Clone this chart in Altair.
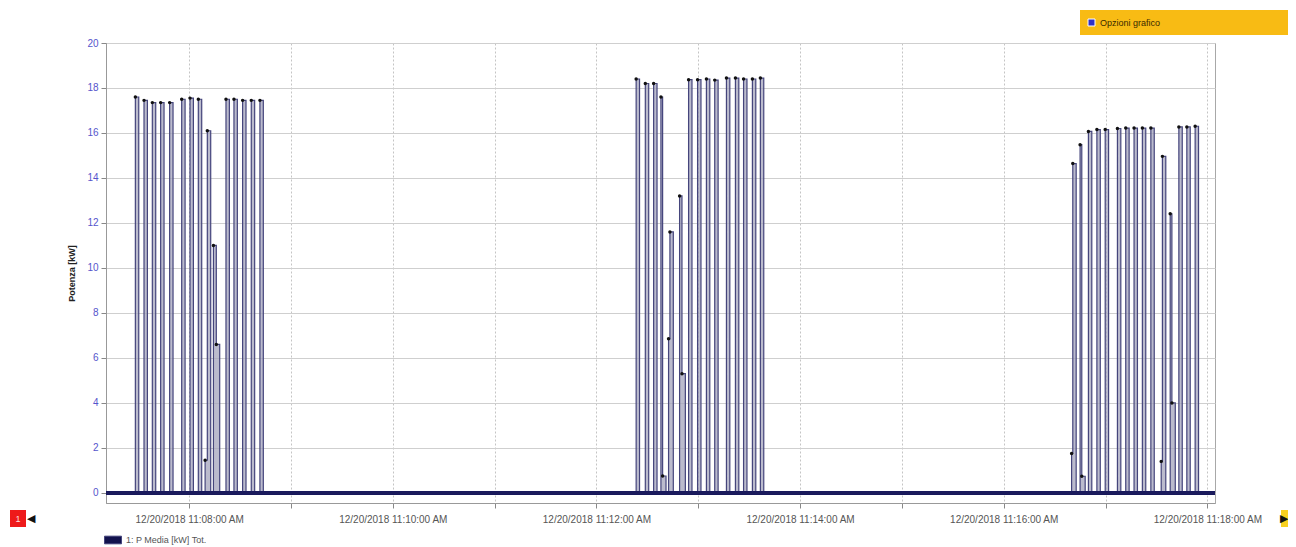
import altair as alt
import pandas as pd

BASE_TIME = "2018-12-20 11:08:00"

# Non-zero samples: seconds after 11:08:00 and power values [kW]
sample_seconds = [
    -31.7, -26.6, -21.7, -16.8, -11.5, -4.4, 0.5, 5.4, 9.4, 10.7, 14.3, 16.0,
    21.7, 26.4, 31.5, 36.6, 41.7,
    263.4, 268.8, 273.7, 278.0, 279.0, 282.5, 283.3, 289.0, 290.4, 294.3, 299.6,
    304.8, 309.7, 316.6, 321.9, 326.7, 331.9, 336.6,
    520.0, 520.7, 525.0, 526.0, 529.9, 534.9, 539.8, 547.0, 551.9, 556.8, 561.7,
    566.7, 572.8, 573.5, 578.1, 579.1, 583.2, 587.9, 592.8,
]
sample_values = [
    17.6, 17.45, 17.35, 17.35, 17.35, 17.5, 17.55, 17.5, 1.45, 16.1, 11.0, 6.6,
    17.5, 17.5, 17.45, 17.45, 17.45,
    18.4, 18.2, 18.2, 17.6, 0.75, 6.85, 11.6, 13.2, 5.3, 18.37, 18.37,
    18.4, 18.35, 18.44, 18.44, 18.4, 18.4, 18.44,
    1.75, 14.64, 15.48, 0.74, 16.07, 16.15, 16.15, 16.2, 16.22, 16.22, 16.22,
    16.22, 1.4, 14.96, 12.41, 4.0, 16.27, 16.27, 16.3,
]
series_name = "1: P Media [kW] Tot."
y_ticks = list(range(0, 21))
minute_ticks = list(range(8, 19))

def ts(sec):
    t = pd.Timestamp(BASE_TIME) + pd.Timedelta(seconds=sec)
    return t.strftime("%Y-%m-%dT%H:%M:%S.%f")[:-3]

# build series: baseline 0 between the bursts (sampled signal, held until next sample)
rows = [(-49.0, 0.0)]
n = len(sample_seconds)
for i, (t, v) in enumerate(zip(sample_seconds, sample_values)):
    if i == 0 or t - sample_seconds[i - 1] > 2.5:
        rows.append((t - 1.0, 0.0))
    rows.append((t, v))
    if i == n - 1 or sample_seconds[i + 1] - t > 2.5:
        rows.append((t + 2.0, 0.0))
rows.append((604.5, 0.0))

df = pd.DataFrame({
    "time": [ts(r[0]) for r in rows],
    "value": [r[1] for r in rows],
    "series": series_name,
})

FONT = "Liberation Sans"

x_enc = alt.X(
    "time:T",
    scale=alt.Scale(
        domain=[
            alt.DateTime(year=2018, month=12, date=20, hours=11, minutes=7, seconds=11),
            alt.DateTime(year=2018, month=12, date=20, hours=11, minutes=18, seconds=4, milliseconds=500),
        ],
        nice=False,
    ),
    axis=alt.Axis(
        values=[alt.DateTime(year=2018, month=12, date=20, hours=11, minutes=m) for m in minute_ticks],
        labelExpr="minutes(datum.value) % 2 === 0 ? timeFormat(datum.value, '%m/%d/%Y %I:%M:%S %p') : ''",
        title=None,
        grid=True,
        gridDash=[2, 2],
        gridColor="#c4c4c4",
        tickSize=5,
        tickColor="#888",
        domainColor="#999",
        labelPadding=6,
        labelFontSize=10,
        labelColor="#555",
        labelFont=FONT,
        labelFlush=False,
        labelOverlap=False,
        labelBound=False,
    ),
)

y_enc = alt.Y(
    "value:Q",
    scale=alt.Scale(domain=[-0.45, 20], nice=False, zero=False),
    axis=alt.Axis(
        values=y_ticks,
        labelExpr="datum.value % 2 === 0 ? datum.label : ''",
        title="Potenza [kW]",
        titleFontSize=9,
        titleFontWeight="bold",
        titleColor="#222",
        titleFont=FONT,
        titlePadding=10,
        grid=True,
        gridColor="#cfcfcf",
        gridDash={"condition": {"test": "datum.value % 2 === 1", "value": [3, 2]}, "value": []},
        tickSize=5,
        tickColor="#888",
        domainColor="#999",
        labelPadding=3,
        labelFontSize=10,
        labelColor="#5555cc",
        labelFont=FONT,
    ),
)

fill = alt.Chart(df).mark_area(
    interpolate="step-after", color="#a4a4bc", opacity=0.75
).encode(x=x_enc, y=y_enc)

line = alt.Chart(df).mark_line(strokeWidth=1.2, interpolate="step-after").encode(
    x="time:T",
    y="value:Q",
    color=alt.Color(
        "series:N",
        scale=alt.Scale(range=["#45457c"]),
        legend=alt.Legend(
            title=None,
            orient="none",
            legendX=-2,
            legendY=488,
            padding=0,
            symbolType="M-1,-0.45H1V0.45H-1Z",
            symbolSize=289,
            symbolFillColor="#12124d",
            symbolStrokeColor="#12124d",
            symbolStrokeWidth=1,
            labelFontSize=9,
            labelColor="#555",
            labelFont=FONT,
        ),
    ),
)

baseline = alt.Chart(df).mark_rule(color="#1b1b5c", strokeWidth=2.5).encode(
    y=alt.datum(0)
)

points = alt.Chart(df).transform_filter("datum.value > 0.3").mark_point(
    filled=True, size=12, color="#111", opacity=1
).encode(x="time:T", y="value:Q")

# UI decorations
opt_df = pd.DataFrame({"label": ["Opzioni grafico"]})
opt_box = alt.Chart(opt_df).mark_rect(color="#f8bb14").encode(
    x=alt.value(974), x2=alt.value(1182), y=alt.value(-33), y2=alt.value(-8)
)
opt_icon = alt.Chart(opt_df).mark_rect(color="#3030c8", stroke="white", strokeWidth=1).encode(
    x=alt.value(982), x2=alt.value(989), y=alt.value(-24), y2=alt.value(-17)
)
opt_text = alt.Chart(opt_df).mark_text(
    align="left", baseline="middle", fontSize=9, color="#3a2a00", font=FONT
).encode(x=alt.value(994), y=alt.value(-20), text="label:N")

nav_df = pd.DataFrame({"page": ["1"], "left": ["◀"], "right": ["▶"]})
nav_box = alt.Chart(nav_df).mark_rect(color="#ee1a1a").encode(
    x=alt.value(-96), x2=alt.value(-80), y=alt.value(467), y2=alt.value(484)
)
nav_num = alt.Chart(nav_df).mark_text(fontSize=9, color="#ffdddd", font=FONT).encode(
    x=alt.value(-88), y=alt.value(476), text="page:N"
)
nav_left = alt.Chart(nav_df).mark_text(fontSize=11, color="#111").encode(
    x=alt.value(-75), y=alt.value(476), text="left:N"
)
nav_rbox = alt.Chart(nav_df).mark_rect(color="#f8d020").encode(
    x=alt.value(1175), x2=alt.value(1182), y=alt.value(467), y2=alt.value(484)
)
nav_right = alt.Chart(nav_df).mark_text(fontSize=11, color="#111").encode(
    x=alt.value(1178), y=alt.value(476), text="right:N"
)

chart = alt.layer(
    fill, line, baseline, points,
    opt_box, opt_icon, opt_text,
    nav_box, nav_num, nav_left, nav_rbox, nav_right,
).properties(
    width=1109,
    height=460,
    autosize=alt.AutoSizeParams(type="none"),
    padding={"left": 98, "top": 35, "right": 73, "bottom": 42},
    background="white",
).configure_view(
    stroke="#a8a8a8"
)

chart.save("out.html", embed_options={"renderer": "svg", "actions": False})
